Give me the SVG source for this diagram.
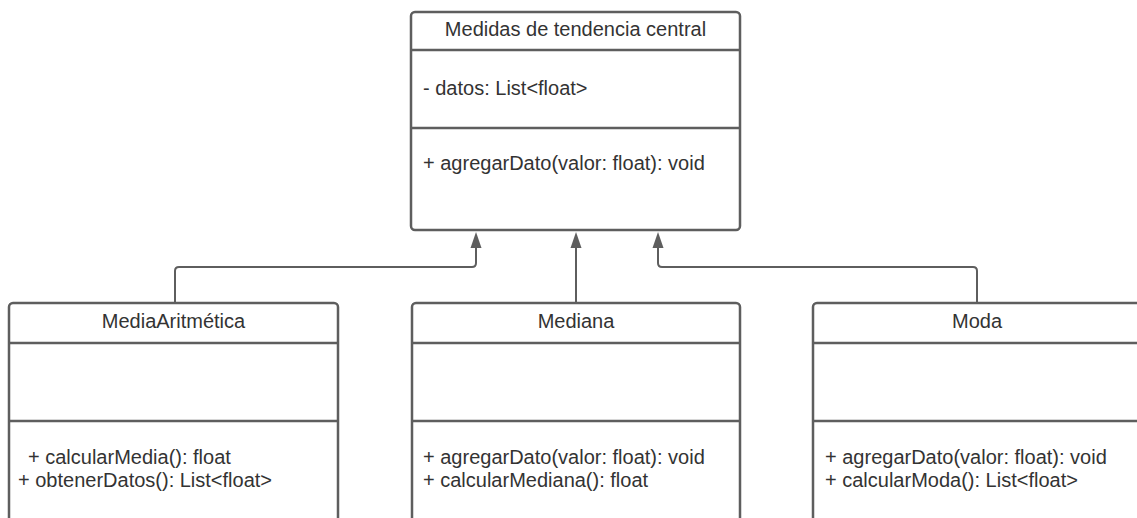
<svg xmlns="http://www.w3.org/2000/svg" width="1137" height="518" viewBox="0 0 1137 518">
<defs>
<style>
.box{fill:#ffffff;stroke:#5e5e5e;stroke-width:2.5}
.div{stroke:#5e5e5e;stroke-width:2.5;fill:none}
.t{font-family:"Liberation Sans",Arial,sans-serif;font-size:20px;fill:#333333}
.c{text-anchor:middle}
.con{stroke:#5e5e5e;stroke-width:2;fill:none}
.arr{fill:#5e5e5e}
</style>
</defs>
<rect width="1137" height="518" fill="#ffffff"/>
<g id="connectors">
<path class="con" d="M175 302 V271 Q175 267 179 267 H472 Q476 267 476 263 V248"/>
<path class="con" d="M576 302 V248"/>
<path class="con" d="M977 302 V271 Q977 267 973 267 H662 Q658 267 658 263 V248"/>
<path class="arr" d="M476 232 L481.5 248 L470.5 248 Z"/>
<path class="arr" d="M576 232 L581.5 248 L570.5 248 Z"/>
<path class="arr" d="M658 232 L663.5 248 L652.5 248 Z"/>
</g>
<g id="medidas">
<rect class="box" x="411" y="12" width="329" height="218" rx="4"/>
<line class="div" x1="411" y1="50" x2="740" y2="50"/>
<line class="div" x1="411" y1="128" x2="740" y2="128"/>
<text class="t c" x="575.5" y="36">Medidas de tendencia central</text>
<text class="t" x="423" y="95">- datos: List&lt;float&gt;</text>
<text class="t" x="423" y="170">+ agregarDato(valor: float): void</text>
</g>
<g id="mediaAritmetica">
<rect class="box" x="9" y="303" width="329" height="240" rx="4"/>
<line class="div" x1="9" y1="343" x2="338" y2="343"/>
<line class="div" x1="9" y1="421" x2="338" y2="421"/>
<text class="t c" x="173.5" y="328">MediaAritmética</text>
<text class="t" x="28" y="464">+ calcularMedia(): float</text>
<text class="t" x="18" y="487">+ obtenerDatos(): List&lt;float&gt;</text>
</g>
<g id="mediana">
<rect class="box" x="412" y="303" width="328" height="240" rx="4"/>
<line class="div" x1="412" y1="343" x2="740" y2="343"/>
<line class="div" x1="412" y1="421" x2="740" y2="421"/>
<text class="t c" x="576" y="328">Mediana</text>
<text class="t" x="423" y="464">+ agregarDato(valor: float): void</text>
<text class="t" x="423" y="487">+ calcularMediana(): float</text>
</g>
<g id="moda">
<rect class="box" x="813" y="303" width="329" height="240" rx="4"/>
<line class="div" x1="813" y1="343" x2="1142" y2="343"/>
<line class="div" x1="813" y1="421" x2="1142" y2="421"/>
<text class="t c" x="977" y="328">Moda</text>
<text class="t" x="825" y="464">+ agregarDato(valor: float): void</text>
<text class="t" x="825" y="487">+ calcularModa(): List&lt;float&gt;</text>
</g>
</svg>
